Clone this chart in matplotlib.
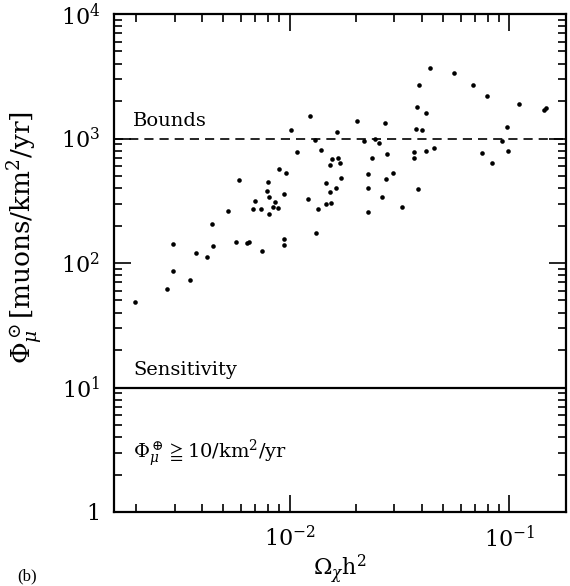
import matplotlib
matplotlib.use("Agg")
import math
import matplotlib.pyplot as plt
from matplotlib.ticker import LogLocator, FuncFormatter, NullFormatter

plt.rcParams['font.family'] = ['DejaVu Serif']
plt.rcParams['mathtext.fontset'] = 'dejavuserif'

# Omega_chi h^2 values
omega_h2 = [0.00198, 0.00278, 0.00294, 0.00294, 0.00352, 0.00376, 0.00421, 0.00446, 0.00448, 0.00526,
            0.00589, 0.00571, 0.00639, 0.00652, 0.00681, 0.00696, 0.00738, 0.00746, 0.00794, 0.00793,
            0.00807, 0.00806, 0.00841, 0.00855, 0.00886, 0.00900, 0.00946, 0.00959, 0.00948, 0.00946,
            0.01014, 0.01081, 0.01233, 0.01305, 0.01394, 0.01219, 0.01347, 0.01318, 0.01459, 0.01472,
            0.01543, 0.01524, 0.01620, 0.01527, 0.01553, 0.01666, 0.01701, 0.01710, 0.01636, 0.02029,
            0.02706, 0.02188, 0.02455, 0.02561, 0.02372, 0.02769, 0.02263, 0.02949, 0.02735, 0.02286,
            0.02636, 0.02286, 0.03258, 0.03825, 0.03688, 0.03696, 0.04191, 0.04521, 0.03754, 0.04005,
            0.03782, 0.04159, 0.03866, 0.04368, 0.05572, 0.06799, 0.07925, 0.1104, 0.1431, 0.1471,
            0.0979, 0.0929, 0.0748, 0.0989, 0.0837]
# Muon flux from the Sun [muons/km^2/yr]
flux_sun = [48.3, 61.5, 87.0, 141.3, 72.7, 121, 112, 204.6, 136.9, 263,
            460, 147.5, 144.7, 146.9, 270.4, 313, 274, 125.6, 451, 378.6,
            340.8, 247.5, 281.2, 310.7, 276.5, 572, 360, 531, 155.3, 139.5,
            1168, 774.7, 1508, 980, 805.4, 324.8, 273, 174.8, 440.9, 297.8,
            302.2, 375.2, 402.5, 618, 680.6, 693.4, 632, 478.9, 1121, 1377,
            1339, 949.5, 987, 923.6, 694.6, 750.6, 515.7, 525.4, 475.4, 398,
            340.8, 258.2, 284.3, 390.8, 779, 697, 793.5, 843.7, 1196, 1181,
            1800, 1602, 2700, 3663, 3339, 2700, 2183, 1903, 1709, 1751,
            1230, 951, 765, 798, 632]

bounds_level = 1000.0
sensitivity_level = 10.0
x_limits = [0.00159, 0.181]
y_limits = [1.0, 1.0e4]

fig = plt.figure(figsize=(5.70, 5.86), dpi=100)
ax = fig.add_axes([114/570, 1-512/586, (566-114)/570, (512-14)/586])

ax.plot(omega_h2, flux_sun, linestyle='none', marker='o', markersize=3.3,
        color='black', markeredgewidth=0)
ax.axhline(bounds_level, color='black', lw=1.2, linestyle=(0, (5.5, 3.6)))
ax.axhline(sensitivity_level, color='black', lw=1.6)

ax.set_xscale('log')
ax.set_yscale('log')
ax.set_xlim(*x_limits)
ax.set_ylim(*y_limits)

ax.xaxis.set_major_locator(LogLocator(base=10, numticks=10))
ax.xaxis.set_minor_locator(LogLocator(base=10, subs=range(2, 10), numticks=20))
ax.yaxis.set_major_locator(LogLocator(base=10, numticks=10))
ax.yaxis.set_minor_locator(LogLocator(base=10, subs=range(2, 10), numticks=20))
ax.xaxis.set_minor_formatter(NullFormatter())
ax.yaxis.set_minor_formatter(NullFormatter())

def fmt(v, pos):
    e = int(round(math.log10(v)))
    if e == 0:
        return '1'
    return r'$10^{%d}$' % e

ax.xaxis.set_major_formatter(FuncFormatter(fmt))
ax.yaxis.set_major_formatter(FuncFormatter(fmt))

ax.tick_params(which='both', direction='in', top=True, right=True, colors='black')
ax.tick_params(which='major', length=12, width=1.2, labelsize=16)
ax.tick_params(axis='y', which='major', pad=10)
ax.tick_params(axis='x', which='major', pad=10)
ax.tick_params(which='minor', length=6, width=1.2)
for s in ax.spines.values():
    s.set_linewidth(1.6)

ax.set_xlabel(r'$\Omega_\chi$h$^2$', fontsize=16)
ax.xaxis.set_label_coords(0.5, -0.082)
ax.set_ylabel(r'$\Phi_\mu^\odot$[muons/km$^2$/yr]', fontsize=19)
ax.yaxis.set_label_coords(-0.150, 0.552)

ax.text(0.042, 0.775, 'Bounds', transform=ax.transAxes, fontsize=14)
ax.text(0.042, 0.275, 'Sensitivity', transform=ax.transAxes, fontsize=14)
ax.text(0.042, 0.108, r'$\Phi_\mu^\oplus\geqq$10/km$^2$/yr', transform=ax.transAxes, fontsize=14)

fig.text(17/570, 1-580/586, '(b)', fontsize=12, family='Liberation Serif')

fig.savefig('out.png', dpi=100)
